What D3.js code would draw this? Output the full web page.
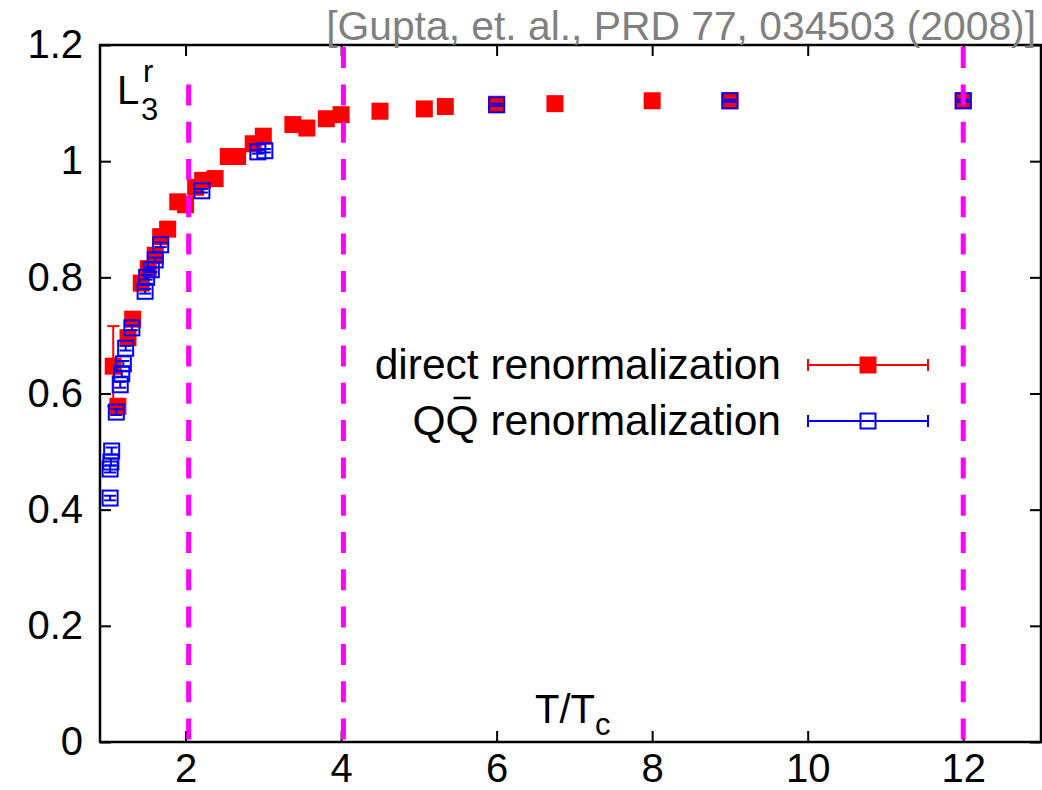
<!DOCTYPE html>
<html><head><meta charset="utf-8">
<script src="https://cdn.jsdelivr.net/npm/d3@7"></script>
<style>
body{margin:0;background:#fff}
svg{display:block}
text{font-family:"Liberation Sans",Arial,Helvetica,sans-serif}
</style>
</head><body>
<svg id="chart" width="1042" height="790"></svg>
<script>
// ---- data ----
const directT   = [1.07, 1.13, 1.26, 1.32, 1.43, 1.52, 1.61, 1.68, 1.77, 1.90, 2.00, 2.13, 2.22, 2.38, 2.55, 2.67, 2.87, 3.00, 3.38, 3.56, 3.81, 4.00, 4.50, 5.07, 5.34, 6.00, 6.75, 8.00, 9.00, 12.00];
const directL   = [0.647, 0.578, 0.696, 0.728, 0.790, 0.815, 0.838, 0.870, 0.883, 0.930, 0.925, 0.955, 0.967, 0.970, 1.008, 1.008, 1.030, 1.043, 1.063, 1.057, 1.073, 1.080, 1.086, 1.090, 1.094, 1.098, 1.099, 1.104, 1.104, 1.104];
const directErr = [0.069, 0.008, 0.006, 0.006, 0.005, 0.005, 0.005, 0.004, 0.004, 0.004, 0.004, 0.004, 0.003, 0.003, 0.003, 0.003, 0.003, 0.003, 0.002, 0.002, 0.002, 0.002, 0.002, 0.002, 0.002, 0.002, 0.002, 0.002, 0.002, 0.002];

const qqT   = [1.03, 1.03, 1.04, 1.05, 1.11, 1.16, 1.18, 1.20, 1.23, 1.31, 1.48, 1.50, 1.56, 1.61, 1.68, 2.21, 2.93, 3.02, 6.00, 9.00, 12.00];
const qqL   = [0.420, 0.470, 0.482, 0.501, 0.568, 0.615, 0.634, 0.651, 0.678, 0.713, 0.776, 0.800, 0.813, 0.830, 0.856, 0.949, 1.016, 1.018, 1.097, 1.104, 1.104];
const qqErr = [0.004, 0.006, 0.006, 0.006, 0.005, 0.005, 0.005, 0.005, 0.004, 0.004, 0.004, 0.004, 0.004, 0.004, 0.004, 0.003, 0.003, 0.003, 0.002, 0.002, 0.002];

const xTickValues = [2, 4, 6, 8, 10, 12];
const xTickLabels = ["2", "4", "6", "8", "10", "12"];
const yTickValues = [0, 0.2, 0.4, 0.6, 0.8, 1.0, 1.2];
const yTickLabels = ["0", "0.2", "0.4", "0.6", "0.8", "1", "1.2"];
const markerLinesT   = [2.04, 4.03, 12.0];
const markerLinesTop = [1.133, 1.2, 1.2];
const seriesNames = ["direct renormalization", "QQ renormalization"];
const citation = "[Gupta, et. al., PRD 77, 034503 (2008)]";

// ---- layout ----
const plot = {left: 100, right: 1041, top: 45, bottom: 742};
const svg = d3.select("#chart");

const x = d3.scaleLinear().domain([0.9, 13]).range([plot.left, plot.right]);
const y = d3.scaleLinear().domain([0, 1.2]).range([plot.bottom, plot.top]);

const RED = "#ff0000", BLUE = "#0000ff", MAG = "#ff00ff";
const tickLen = 11;
const fs = 40;

// axes with inward ticks
const gB = svg.append("g").attr("transform", `translate(0,${plot.bottom})`)
  .call(d3.axisBottom(x).tickValues(xTickValues).tickSizeInner(-tickLen).tickSizeOuter(0)
    .tickPadding(12).tickFormat((d, i) => xTickLabels[i]));
const gT = svg.append("g").attr("transform", `translate(0,${plot.top})`)
  .call(d3.axisTop(x).tickValues(xTickValues).tickSizeInner(-tickLen).tickSizeOuter(0).tickFormat(""));
const gL = svg.append("g").attr("transform", `translate(${plot.left},0)`)
  .call(d3.axisLeft(y).tickValues(yTickValues).tickSizeInner(-tickLen).tickSizeOuter(0)
    .tickPadding(17).tickFormat((d, i) => yTickLabels[i]));
const gR = svg.append("g").attr("transform", `translate(${plot.right},0)`)
  .call(d3.axisRight(y).tickValues(yTickValues).tickSizeInner(-tickLen).tickSizeOuter(0).tickFormat(""));
[gB, gT, gL, gR].forEach(g => {
  g.select(".domain").remove();
  g.selectAll(".tick line").attr("stroke", "#000").attr("stroke-width", 2);
  g.selectAll("text").attr("font-size", fs).attr("fill", "#000")
    .attr("font-family", "'Liberation Sans', Arial, sans-serif");
});
gB.selectAll("text").attr("dy", "0.71em");

// frame
svg.append("rect").attr("x", plot.left).attr("y", plot.top)
  .attr("width", plot.right - plot.left).attr("height", plot.bottom - plot.top)
  .attr("fill", "none").attr("stroke", "#000").attr("stroke-width", 2.5);

// data
const direct = directT.map((t, i) => ({t, v: directL[i], e: directErr[i]}));
const qq = qqT.map((t, i) => ({t, v: qqL[i], e: qqErr[i]}));
const ms = 17, cap = 6;

function errorBars(g, data, color) {
  const sel = g.selectAll("g.eb").data(data).join("g").attr("class", "eb")
    .attr("stroke", color).attr("stroke-width", 2);
  sel.append("line").attr("x1", d => x(d.t)).attr("x2", d => x(d.t))
    .attr("y1", d => y(d.v - d.e)).attr("y2", d => y(d.v + d.e));
  sel.append("line").attr("x1", d => x(d.t) - cap).attr("x2", d => x(d.t) + cap)
    .attr("y1", d => y(d.v + d.e)).attr("y2", d => y(d.v + d.e));
  sel.append("line").attr("x1", d => x(d.t) - cap).attr("x2", d => x(d.t) + cap)
    .attr("y1", d => y(d.v - d.e)).attr("y2", d => y(d.v - d.e));
}

const gd = svg.append("g");
errorBars(gd, direct, RED);
gd.selectAll("rect").data(direct).join("rect")
  .attr("x", d => x(d.t) - ms / 2).attr("y", d => y(d.v) - ms / 2)
  .attr("width", ms).attr("height", ms).attr("fill", RED);

const gq = svg.append("g");
gq.selectAll("rect").data(qq).join("rect")
  .attr("x", d => x(d.t) - (ms - 2) / 2).attr("y", d => y(d.v) - (ms - 2) / 2)
  .attr("width", ms - 2).attr("height", ms - 2).attr("fill", "none")
  .attr("stroke", BLUE).attr("stroke-width", 2);
errorBars(gq, qq, BLUE);

// magenta dashed vertical lines
svg.append("g").selectAll("line").data(markerLinesT).join("line")
  .attr("x1", d => x(d)).attr("x2", d => x(d))
  .attr("y1", y(0) - 2.5).attr("y2", (d, i) => y(markerLinesTop[i]))
  .attr("stroke", MAG).attr("stroke-width", 5)
  .attr("stroke-dasharray", "21 16.3");

// y-axis label L^r_3
svg.append("text").attr("x", 117).attr("y", 104).attr("font-size", fs).attr("fill", "#000").text("L");
svg.append("text").attr("x", 143).attr("y", 82).attr("font-size", 31).text("r");
svg.append("text").attr("x", 141).attr("y", 120).attr("font-size", 31).text("3");

// x-axis label T/T_c
const xl = svg.append("text").attr("x", 535).attr("y", 723).attr("font-size", fs).attr("fill", "#000");
xl.append("tspan").text("T/T");
xl.append("tspan").attr("font-size", 31).attr("dy", 12).text("c");

// citation
svg.append("text").attr("x", 1036).attr("y", 40).attr("text-anchor", "end")
  .attr("font-size", 40.8).attr("fill", "#808080").text(citation);

// legend
const legRows = [
  {name: seriesNames[0], color: RED, filled: true, yc: 365},
  {name: seriesNames[1], color: BLUE, filled: false, yc: 421}
];
const lx1 = 808, lx2 = 928, lxm = 868, lfs = 42.5;
legRows.forEach((r, i) => {
  const g = svg.append("g");
  const t = g.append("text").attr("x", 781).attr("y", r.yc + 14).attr("text-anchor", "end")
    .attr("font-size", lfs).attr("fill", "#000").text(r.name);
  if (i === 1) {
    const bb = t.node().getExtentOfChar(1);
    g.append("line").attr("x1", bb.x + 8).attr("x2", bb.x + bb.width - 8)
      .attr("y1", r.yc - 23).attr("y2", r.yc - 23).attr("stroke", "#000").attr("stroke-width", 2.5);
  }
  g.append("line").attr("x1", lx1).attr("x2", lx2).attr("y1", r.yc).attr("y2", r.yc)
    .attr("stroke", r.color).attr("stroke-width", 2);
  [lx1, lx2].forEach(xx => g.append("line").attr("x1", xx).attr("x2", xx)
    .attr("y1", r.yc - cap).attr("y2", r.yc + cap).attr("stroke", r.color).attr("stroke-width", 2));
  if (r.filled) {
    g.append("rect").attr("x", lxm - ms / 2).attr("y", r.yc - ms / 2).attr("width", ms).attr("height", ms).attr("fill", r.color);
  } else {
    g.append("rect").attr("x", lxm - (ms - 2) / 2).attr("y", r.yc - (ms - 2) / 2).attr("width", ms - 2).attr("height", ms - 2)
      .attr("fill", "none").attr("stroke", r.color).attr("stroke-width", 2);
  }
});
</script>
</body></html>
